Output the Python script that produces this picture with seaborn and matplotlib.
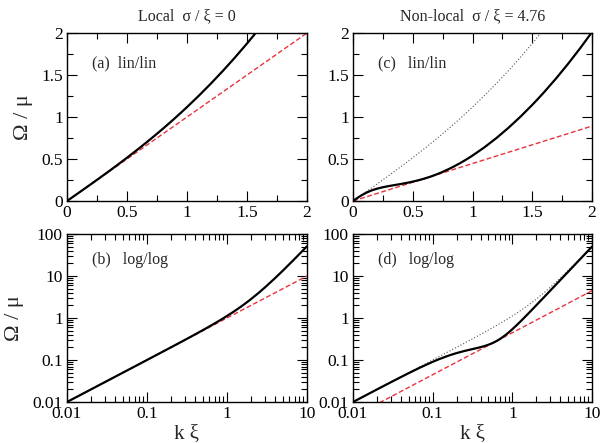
import numpy as np
import matplotlib
matplotlib.use("Agg")
import matplotlib.pyplot as plt
import matplotlib.ticker as mticker
import seaborn as sns

# k xi values
k_xi = [0.001, 0.01, 0.02, 0.03, 0.05, 0.07, 0.1, 0.12, 0.15, 0.17, 0.2, 0.25,
        0.3, 0.35, 0.4, 0.45, 0.5, 0.55, 0.6, 0.65, 0.7, 0.75, 0.8, 0.85, 0.9,
        0.95, 1.0, 1.1, 1.2, 1.3, 1.4, 1.5, 1.55, 1.6, 1.7, 1.8, 1.9, 2.0,
        2.5, 3.0, 4.0, 5.0, 7.0, 10.0]

# local (sigma/xi = 0) dispersion, Omega/mu
omega_local = [0.001, 0.0100, 0.0200, 0.0300, 0.0500, 0.0700, 0.1001, 0.1202,
               0.1504, 0.1706, 0.2010, 0.2519, 0.3034, 0.3553, 0.4079, 0.4613,
               0.5154, 0.5704, 0.6264, 0.6835, 0.7416, 0.8010, 0.8616, 0.9236,
               0.9869, 1.0517, 1.1180, 1.2554, 1.3994, 1.5505, 1.7089, 1.8750,
               1.9610, 2.0490, 2.2311, 2.4217, 2.6207, 2.8284, 4.0020, 5.4083,
               8.9443, 13.463, 25.480, 50.990]

# non-local (sigma/xi = 4.76) dispersion, Omega/mu
omega_nonlocal = [0.001, 0.00999, 0.01991, 0.02970, 0.04866, 0.06646, 0.09043,
                  0.10445, 0.12259, 0.13294, 0.14623, 0.16385, 0.17787, 0.19026,
                  0.20247, 0.21561, 0.23052, 0.24778, 0.26780, 0.29084, 0.31704,
                  0.34645, 0.37906, 0.41485, 0.45374, 0.49568, 0.54062, 0.63922,
                  0.74915, 0.87008, 1.00178, 1.14408, 1.21917, 1.29683, 1.45998,
                  1.63339, 1.81705, 2.01088, 3.1320, 4.5049, 8.0028, 12.502,
                  24.501, 50.000]

# Landau (sound) lines
landau_k = [0.001, 10.0]
landau_local = [0.001, 10.0]
landau_nonlocal = [0.000446, 4.46]

sns.set_style("ticks")
plt.rcParams['font.family'] = ['Liberation Serif', 'DejaVu Serif']
plt.rcParams['mathtext.fontset'] = 'stix'

fig = plt.figure(figsize=(6.0, 4.43), dpi=100)

L1, R1 = 67 / 600, 307 / 600
L2, R2 = 353 / 600, 592 / 600
T1, B1 = 1 - 33 / 443, 1 - 201 / 443
T2, B2 = 1 - 234 / 443, 1 - 402 / 443

ax_a = fig.add_axes([L1, B1, R1 - L1, T1 - B1])
ax_c = fig.add_axes([L2, B1, R2 - L2, T1 - B1])
ax_b = fig.add_axes([L1, B2, R1 - L1, T2 - B2])
ax_d = fig.add_axes([L2, B2, R2 - L2, T2 - B2])

red = '#e8333a'


def draw(ax, main, landau, dotted=None):
    if dotted is not None:
        sns.lineplot(x=k_xi, y=dotted, ax=ax, color='#555555', lw=0.8,
                     sort=False, estimator=None)
        ax.lines[-1].set_linestyle((0, (1, 1.8)))
    sns.lineplot(x=landau_k, y=landau, ax=ax, color=red, lw=1.0,
                 sort=False, estimator=None)
    ax.lines[-1].set_linestyle((0, (3.5, 1.8)))
    sns.lineplot(x=k_xi, y=main, ax=ax, color='black', lw=1.6,
                 sort=False, estimator=None)


draw(ax_a, omega_local, landau_local)
draw(ax_c, omega_nonlocal, landau_nonlocal, dotted=omega_local)
draw(ax_b, omega_local, landau_local)
draw(ax_d, omega_nonlocal, landau_nonlocal, dotted=omega_local)

fmt = mticker.FuncFormatter(lambda v, p: '%g' % v)

for ax in (ax_a, ax_c):
    ax.set_xlim(0, 2)
    ax.set_ylim(0, 2)
    ax.xaxis.set_major_locator(mticker.MultipleLocator(0.5))
    ax.xaxis.set_minor_locator(mticker.MultipleLocator(0.25))
    ax.yaxis.set_major_locator(mticker.MultipleLocator(0.5))
    ax.yaxis.set_minor_locator(mticker.MultipleLocator(0.25))

for ax in (ax_b, ax_d):
    ax.set_xscale('log')
    ax.set_yscale('log')
    ax.set_xlim(0.01, 10)
    ax.set_ylim(0.01, 100)
    for axis in (ax.xaxis, ax.yaxis):
        axis.set_major_locator(mticker.LogLocator(base=10, numticks=20))
        axis.set_minor_locator(mticker.LogLocator(base=10, subs=np.arange(2, 10), numticks=20))
        axis.set_minor_formatter(mticker.NullFormatter())

for ax in (ax_a, ax_b, ax_c, ax_d):
    ax.xaxis.set_major_formatter(fmt)
    ax.yaxis.set_major_formatter(fmt)
    ax.tick_params(which='both', direction='in', top=True, right=True,
                   labelsize=12.5, width=0.8, colors='black')
    ax.tick_params(which='major', length=7, pad=3)
    ax.tick_params(which='minor', length=4)
    for s in ax.spines.values():
        s.set_linewidth(1.0)
        s.set_color('black')
    ax.set_xlabel('')
    ax.set_ylabel('')

ax_a.set_title('Local  σ / ξ = 0', fontsize=11.5, pad=9)
ax_c.set_title('Non-local  σ / ξ = 4.76', fontsize=11.5, pad=9)

ax_a.set_ylabel('Ω / μ', fontsize=16, labelpad=6)
ax_b.set_ylabel('Ω / μ', fontsize=16, labelpad=6)
ax_b.set_xlabel('k ξ', fontsize=15, labelpad=1)
ax_d.set_xlabel('k ξ', fontsize=15, labelpad=1)

ax_a.text(0.104, 0.82, '(a)  lin/lin', transform=ax_a.transAxes, fontsize=11.5, va='center')
ax_c.text(0.105, 0.82, '(c)   lin/lin', transform=ax_c.transAxes, fontsize=11.5, va='center')
ax_b.text(0.104, 0.845, '(b)   log/log', transform=ax_b.transAxes, fontsize=11.5, va='center')
ax_d.text(0.105, 0.845, '(d)   log/log', transform=ax_d.transAxes, fontsize=11.5, va='center')

fig.savefig('out.png', dpi=100)
